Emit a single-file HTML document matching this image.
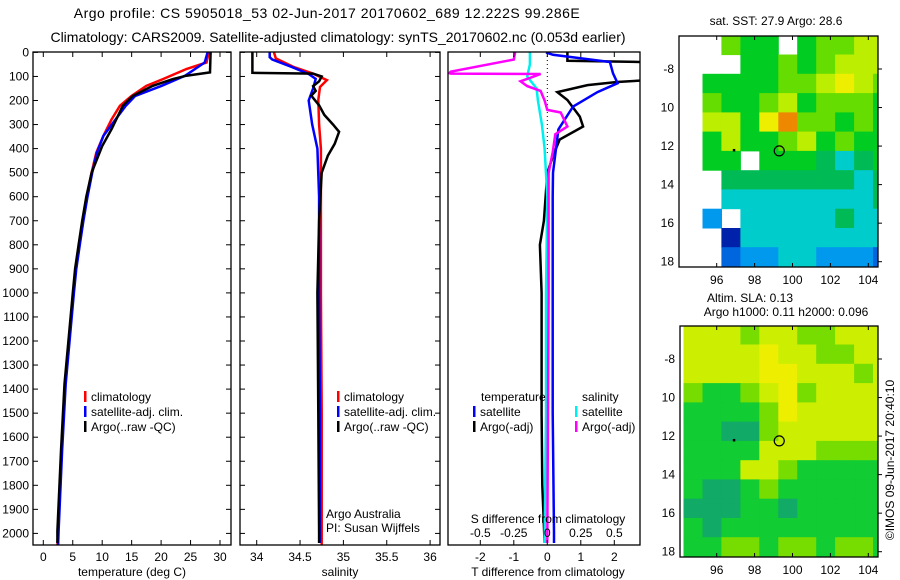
<!DOCTYPE html>
<html><head><meta charset="utf-8">
<style>
body{margin:0;background:#fff;}
svg{display:block;font-family:"Liberation Sans",sans-serif;}
</style></head>
<body>
<svg id="fig" width="900" height="580" viewBox="0 0 900 580" xmlns="http://www.w3.org/2000/svg">
<g id="titles" font-size="14" text-anchor="middle" fill="#000">
<text x="327" y="18" letter-spacing="0.5">Argo profile: CS 5905018_53 02-Jun-2017 20170602_689 12.222S 99.286E</text>
<text x="338" y="42">Climatology: CARS2009. Satellite-adjusted climatology: synTS_20170602.nc (0.053d earlier)</text>
</g>
<g id="layer"></g>
<text transform="translate(894,460) rotate(-90)" font-size="12" text-anchor="middle">©IMOS 09-Jun-2017 20:40:10</text>
</svg>
<script>
// ---------- data ----------
const depthTicks = [0,100,200,300,400,500,600,700,800,900,1000,1100,1200,1300,1400,1500,1600,1700,1800,1900,2000];
const tempTicks = [0,5,10,15,20,25,30];
const salTicks = [34,34.5,35,35.5,36];
const salTickLabels = ["34","34.5","35","35.5","36"];
const tdiffTicks = [-2,-1,0,1,2];
const sdiffTicks = [-0.5,-0.25,0,0.25,0.5];
const sdiffTickLabels = ["-0.5","-0.25","0","0.25","0.5"];

const tClimDepth = [0,42,69,111,139,181,222,278,347,417,500,600,700,800,900,1000,1379,1657,1990,2060];
const tClimVal   = [28.1,27.7,24.3,20.3,17.5,15.0,13.0,11.6,10.2,9.0,8.2,7.4,6.7,6.1,5.5,5.1,3.7,3.1,2.5,2.4];
const tSatDepth  = [0,42,97,139,181,222,278,347,417,500,600,700,800,900,1000,1379,1657,1990,2060];
const tSatVal    = [27.9,27.4,24.1,20.1,15.6,14.0,12.3,10.2,9.1,8.3,7.5,6.8,6.2,5.6,5.2,3.8,3.2,2.6,2.5];
const tArgoDepth = [0,83,97,111,139,181,222,319,389,500,600,700,800,900,1000,1379,1657,1990,2040];
const tArgoVal   = [28.4,28.3,24.3,22,18.6,15.2,13.5,11.6,10.0,8.2,7.3,6.6,6.0,5.4,5.0,3.6,3.0,2.4,2.4];

const sClimDepth = [0,25,60,87,115,144,198,300,400,600,1000,1500,2000,2100];
const sClimVal   = [34.2,34.22,34.42,34.64,34.81,34.73,34.71,34.72,34.74,34.74,34.74,34.75,34.75,34.75];
const sSatDepth  = [0,20,30,60,90,110,150,200,300,400,600,1000,1500,2000,2040];
const sSatVal    = [34.15,34.15,34.18,34.4,34.6,34.68,34.65,34.6,34.64,34.7,34.72,34.72,34.73,34.73,34.73];
const sArgoDepth = [0,85,88,100,120,140,160,180,220,260,300,330,380,430,500,700,1000,1500,2000,2040];
const sArgoVal   = [33.95,33.95,34.65,34.75,34.72,34.65,34.68,34.63,34.72,34.78,34.88,34.95,34.9,34.82,34.75,34.72,34.7,34.71,34.72,34.72];

const dTSatDepth = [0,10,40,87,128,165,225,320,500,600,1000,1500,2000,2040];
const dTSatVal   = [-0.04,0.17,1.87,1.96,2.1,1.5,0.77,0.33,0.17,0.16,0.16,0.16,0.2,0.2];
const dTArgoDepth = [0,35,40,88,115,123,136,165,198,267,308,362,420,500,700,800,1000,1500,1800,2040];
const dTArgoVal   = [0.6,0.6,2.8,3.0,3.0,2.08,1.2,0.3,0.6,0.97,1.07,0.37,0.2,0.0,-0.1,-0.22,-0.17,-0.17,-0.15,-0.08];
const dSSatDepth = [0,50,100,150,200,300,400,600,1000,1500,2040];
const dSSatVal   = [-0.13,-0.13,-0.15,-0.08,-0.07,-0.04,-0.02,0.0,-0.01,-0.01,-0.02];
const dSArgoDepth = [0,30,35,80,86,88,90,100,120,140,160,200,239,250,308,340,416,500,1000,2040];
const dSArgoVal   = [-0.24,-0.25,-0.3,-0.72,-0.73,-0.72,-0.05,-0.1,-0.2,-0.15,-0.05,-0.02,0.0,0.1,0.15,0.06,0.04,0.01,0.01,0.0];

// SST map grid (1 deg cells, lon 94.25.., lat -6.25 downward). -1 = no data
const sstGrid = [
[-1,-1,6,5,5,-1,5,6,6,7,7],
[-1,-1,-1,5,5,6,5,6,7,7,7],
[-1,5,5,5,5,6,6,7,8,7,6],
[-1,6,5,5,6,7,5,6,6,6,5],
[-1,7,7,5,8,9,6,6,5,6,5],
[-1,5,7,5,5,6,7,5,6,5,5],
[-1,5,5,-1,5,5,5,4,3,4,5],
[-1,-1,4,4,4,4,4,4,4,3,4],
[-1,-1,3,3,3,3,3,3,3,3,4],
[-1,2,-1,3,3,3,3,3,4,3,3],
[-1,-1,0,3,3,3,3,3,3,3,3],
[-1,-1,1,2,2,3,3,2,2,2,1]
];
const slaGrid = [
[7,7,7,6,7,7,6,6,7,7,7],
[7,7,7,7,8,7,7,6,6,7,7],
[7,7,7,7,8,8,7,7,7,6,7],
[6,5,5,6,7,8,6,7,7,7,7],
[5,5,5,5,6,8,7,7,7,7,7],
[5,5,4,4,6,7,7,7,7,7,7],
[5,5,5,5,7,7,7,6,6,6,6],
[5,5,5,7,7,6,5,5,5,5,5],
[5,4,4,5,6,5,5,5,5,5,5],
[4,4,4,5,5,4,5,5,5,5,5],
[5,4,5,5,5,5,5,5,5,5,5],
[5,5,6,6,5,6,6,5,6,6,5]
];
const mapLonTicks = [96,98,100,102,104];
const mapLatTicks = [-8,-10,-12,-14,-16,-18];
const argoLon = 99.3, argoLat = -12.25;

// ---------- drawing ----------
const NS="http://www.w3.org/2000/svg";
const layer=document.getElementById('layer');
function mk(tag,attrs,parent){const e=document.createElementNS(NS,tag);for(const k in attrs)e.setAttribute(k,attrs[k]);(parent||layer).appendChild(e);return e;}
const yD = d => 52.4 + d*0.2405;
const yTop=52, yBot=545;
const tickY=561, titleY=576;

function panel(name){
  const g=mk('g',{});
  
  
  return g;
}
function frame(g,x0,x1,yt,yb){
  const r=mk('rect',{x:x0,y:yt,width:x1-x0,height:yb-yt,fill:'none',stroke:'#000','stroke-width':1.3},g);
  
  
}
function line(g,depths,vals,xf,color,name,w){
  const pts=depths.map((d,i)=>xf(vals[i]).toFixed(1)+','+yD(d).toFixed(1)).join(' ');
  const p=mk('polyline',{points:pts,fill:'none',stroke:color,'stroke-width':w||2.5,'stroke-linejoin':'miter'},g);
  
  
}
function txt(g,x,y,s,anchor,size){
  const t=mk('text',{x:x,y:y,'font-size':size||12,'text-anchor':anchor||'start'},g);
  t.textContent=s;return t;
}
function legend(g,x,y,color,label){
  const r=mk('rect',{x:x,y:y-10,width:2.5,height:11,fill:color},g);
  
  
  const t=txt(g,x+7,y,label);
  
  
}

const defs=mk('defs',{});
function clip(id,x0,x1,yt,yb){const c=mk('clipPath',{id:id},defs);mk('rect',{x:x0,y:yt,width:x1-x0,height:yb-yt},c);}
clip('c1',33,231,yTop,yBot);clip('c2',240,440,yTop,yBot);clip('c3',448,640,yTop,yBot);
clip('m1',679,878,36,267);clip('m2',680,878,326,557);

// panel 1: temperature
const xT = v => 43.3 + v*5.89;
const p1=panel('temperature-panel');
const g1=mk('g',{'clip-path':'url(#c1)'},p1);
line(g1,tClimDepth,tClimVal,xT,'#ff0000','climatology-temp-line');
line(g1,tSatDepth,tSatVal,xT,'#0000ff','satellite-temp-line');
line(g1,tArgoDepth,tArgoVal,xT,'#000000','argo-temp-line');
frame(p1,33,231,yTop,yBot);
depthTicks.forEach(d=>{
  mk('line',{x1:33,x2:38,y1:yD(d),y2:yD(d),stroke:'#000'},p1);
  mk('line',{x1:226,x2:231,y1:yD(d),y2:yD(d),stroke:'#000'},p1);
  const t=txt(p1,29,yD(d)+4,String(d),'end');
  
  
});
tempTicks.forEach(v=>{
  mk('line',{x1:xT(v),x2:xT(v),y1:yBot,y2:yBot-5,stroke:'#000'},p1);
  mk('line',{x1:xT(v),x2:xT(v),y1:yTop,y2:yTop+5,stroke:'#000'},p1);
  const t=txt(p1,xT(v),tickY,String(v),'middle');
  
  
});
{const t=txt(p1,132,titleY,'temperature (deg C)','middle');}
legend(p1,84,401,'#ff0000','climatology');
legend(p1,84,416,'#0000ff','satellite-adj. clim.');
legend(p1,84,431,'#000000','Argo(..raw -QC)');

// panel 2: salinity
const xS = v => 256.7 + (v-34)*86.7;
const p2=panel('salinity-panel');
const g2=mk('g',{'clip-path':'url(#c2)'},p2);
line(g2,sClimDepth,sClimVal,xS,'#ff0000','climatology-sal-line');
line(g2,sSatDepth,sSatVal,xS,'#0000ff','satellite-sal-line');
line(g2,sArgoDepth,sArgoVal,xS,'#000000','argo-sal-line');
frame(p2,240,440,yTop,yBot);
depthTicks.forEach(d=>{
  mk('line',{x1:240,x2:245,y1:yD(d),y2:yD(d),stroke:'#000'},p2);
  mk('line',{x1:435,x2:440,y1:yD(d),y2:yD(d),stroke:'#000'},p2);
});
salTicks.forEach((v,i)=>{
  mk('line',{x1:xS(v),x2:xS(v),y1:yBot,y2:yBot-5,stroke:'#000'},p2);
  mk('line',{x1:xS(v),x2:xS(v),y1:yTop,y2:yTop+5,stroke:'#000'},p2);
  const t=txt(p2,xS(v),tickY,salTickLabels[i],'middle');
  
  
});
{const t=txt(p2,340,titleY,'salinity','middle');}
legend(p2,337,401,'#ff0000','climatology');
legend(p2,337,416,'#0000ff','satellite-adj. clim.');
legend(p2,337,431,'#000000','Argo(..raw -QC)');
{const t=txt(p2,326,518,'Argo Australia');}
{const t=txt(p2,326,532,'PI: Susan Wijffels');}

// panel 3: differences
const xDT = v => 547.3 + v*33.5;
const xDS = v => 547.3 + v*134;
const p3=panel('difference-panel');
const g3=mk('g',{'clip-path':'url(#c3)'},p3);
{const l=mk('line',{x1:547.3,x2:547.3,y1:yTop,y2:yD(420),stroke:'#000','stroke-dasharray':'1,3'},g3);}
line(g3,dTArgoDepth,dTArgoVal,xDT,'#000000','argo-tdiff-line');
line(g3,dTSatDepth,dTSatVal,xDT,'#0000ff','satellite-tdiff-line');
line(g3,dSSatDepth,dSSatVal,xDS,'#00eeee','satellite-sdiff-line');
line(g3,dSArgoDepth,dSArgoVal,xDS,'#ff00ff','argo-sdiff-line');
frame(p3,448,640,yTop,yBot);
tdiffTicks.forEach(v=>{
  mk('line',{x1:xDT(v),x2:xDT(v),y1:yBot,y2:yBot-5,stroke:'#000'},p3);
  mk('line',{x1:xDT(v),x2:xDT(v),y1:yTop,y2:yTop+5,stroke:'#000'},p3);
  const t=txt(p3,xDT(v),tickY,String(v),'middle');
  
  
});
sdiffTicks.forEach((v,i)=>{
  const t=txt(p3,xDS(v),537,sdiffTickLabels[i],'middle');
  
  
});
{const t=txt(p3,548,523,'S difference from climatology','middle');}
{const t=txt(p3,548,titleY,'T difference from climatology','middle');}
{const t=txt(p3,481,401,'temperature');}
{const t=txt(p3,582,401,'salinity');}
legend(p3,473,416,'#0000ff','satellite');
legend(p3,473,431,'#000000','Argo(-adj)');
legend(p3,575,416,'#00eeee','satellite');
legend(p3,575,431,'#ff00ff','Argo(-adj)');

// maps
const pal1=['#0022aa','#0066dd','#0099ee','#00cccc','#00bb55','#00cc22','#66dd00','#bbee00','#eeee00','#ee8800'];
const pal2=['#0022aa','#0066dd','#0099ee','#11bb99','#11aa66','#11cc33','#77dd00','#ccee00','#eeee00','#ee8800'];
function drawMap(name,grid,pal,clipId,x0,x1,yt,yb,lat8y,title1,title2){
  const g=panel(name);
  const X = lon => 716.7 + (lon-96)*18.95;
  const Y = lat => lat8y + (-8-lat)*19.27;
  const gc=mk('g',{'clip-path':'url(#'+clipId+')'},g);
  grid.forEach((row,r)=>row.forEach((v,c)=>{
    if(v<0)return;
    const lon=94.25+c, lat=-6.25-r;
    const cell=mk('rect',{x:X(lon).toFixed(1),y:Y(lat).toFixed(1),width:19.5,height:19.8,fill:pal[v]},gc);
    
    
  }));
  const c=mk('circle',{cx:X(argoLon),cy:Y(argoLat),r:5,fill:'none',stroke:'#000','stroke-width':1.2},g);
  
  
  mk('rect',{x:X(96.85),y:Y(-12.15),width:2.5,height:2.5,fill:'#000'},g);
  frame(g,x0,x1,yt,yb);
  mapLonTicks.forEach(v=>{
    mk('line',{x1:X(v),x2:X(v),y1:yt,y2:yt+4,stroke:'#000'},g);
    mk('line',{x1:X(v),x2:X(v),y1:yb,y2:yb-4,stroke:'#000'},g);
    const t=txt(g,X(v),yb+17,String(v),'middle');
    
    
  });
  mapLatTicks.forEach(v=>{
    mk('line',{x1:x1,x2:x1+4,y1:Y(v),y2:Y(v),stroke:'#000'},g);
    const t=txt(g,x0-5,Y(v)+4,v==-8?'-8':String(-v),'end');
    
    
  });
  const t1=txt(g,title1[1],title1[2],title1[0],'middle');
  
  if(title2){const t2=txt(g,title2[1],title2[2],title2[0],'middle');}
}
drawMap('sst-map',sstGrid,pal1,'m1',679,878,36,267,69,['sat. SST: 27.9 Argo: 28.6',776,25]);
drawMap('sla-map',slaGrid,pal2,'m2',680,878,326,557,359,['Altim. SLA: 0.13',750,302],['Argo h1000: 0.11 h2000: 0.096',786,316]);
</script>
</body></html>
